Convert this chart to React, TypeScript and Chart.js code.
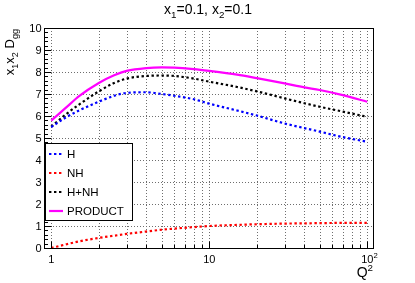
import React, { useEffect, useRef } from 'react';
import { Chart, registerables } from 'chart.js';

Chart.register(...registerables);

const FONT = '"Liberation Sans", Arial, Helvetica, sans-serif';

// ---- data ----
const Q2 = [1, 1.25, 1.5, 2, 2.5, 3, 4, 5, 6, 8, 10, 15, 20, 30, 40, 50, 70, 100];
const H = [5.5, 5.95, 6.25, 6.65, 6.92, 7.05, 7.08, 7.0, 6.92, 6.76, 6.56, 6.25, 6.02, 5.66, 5.45, 5.29, 5.04, 4.83];
const NH = [0, 0.17, 0.3, 0.46, 0.56, 0.64, 0.75, 0.83, 0.88, 0.95, 1.0, 1.05, 1.08, 1.11, 1.12, 1.13, 1.14, 1.14];
const H_NH = [5.52, 6.1, 6.52, 7.12, 7.5, 7.7, 7.82, 7.84, 7.82, 7.7, 7.56, 7.32, 7.12, 6.8, 6.58, 6.42, 6.2, 5.96];
const PRODUCT = [5.79, 6.4, 6.9, 7.5, 7.85, 8.05, 8.18, 8.21, 8.2, 8.13, 8.05, 7.88, 7.72, 7.48, 7.3, 7.18, 6.95, 6.65];

const SERIES_LABELS = ['H', 'NH', 'H+NH', 'PRODUCT'];
const SERIES_COLORS = ['#0000ff', '#ff0000', '#000000', '#ff00ff'];
const Y_TICKS = [0, 1, 2, 3, 4, 5, 6, 7, 8, 9, 10];
const X_GRID = [1, 2, 3, 4, 5, 6, 7, 8, 9, 10, 20, 30, 40, 50, 60, 70, 80, 90, 100];
const X_MAJOR = [1, 10, 100];
const X_TICK_LABELS = [
  { v: 1, base: '1', sup: '' },
  { v: 10, base: '10', sup: '' },
  { v: 100, base: '10', sup: '2' },
];
const X_MIN = 0.9;
const X_MAX = 108.7;
const Y_MIN = 0;
const Y_MAX = 10;

type Seg = { t: string; sub?: boolean; sup?: boolean };

function richWidth(ctx: CanvasRenderingContext2D, segs: Seg[], size: number) {
  let w = 0;
  for (const s of segs) {
    ctx.font = `${s.sub || s.sup ? size * 0.7 : size}px ${FONT}`;
    w += ctx.measureText(s.t).width;
  }
  return w;
}

function drawRich(ctx: CanvasRenderingContext2D, segs: Seg[], x: number, y: number, size: number) {
  let cx = x;
  ctx.textAlign = 'left';
  ctx.textBaseline = 'alphabetic';
  for (const s of segs) {
    const small = s.sub || s.sup;
    ctx.font = `${small ? size * 0.7 : size}px ${FONT}`;
    const dy = s.sub ? size * 0.3 : s.sup ? -size * 0.45 : 0;
    ctx.fillText(s.t, cx, y + dy);
    cx += ctx.measureText(s.t).width;
  }
}

const rootStyle = {
  id: 'rootStyle',
  beforeDraw(chart: any) {
    const { ctx, width, height } = chart;
    ctx.save();
    ctx.fillStyle = '#ffffff';
    ctx.fillRect(0, 0, width, height);
    ctx.restore();
  },
  beforeDatasetsDraw(chart: any) {
    const { ctx, chartArea: a, scales } = chart;
    const xs = scales.x;
    const ys = scales.y;
    ctx.save();
    ctx.lineWidth = 1;
    ctx.strokeStyle = '#6e6e6e';
    ctx.setLineDash([1, 2]);
    for (const v of X_GRID) {
      const px = Math.round(xs.getPixelForValue(v)) + 0.5;
      ctx.beginPath();
      ctx.moveTo(px, a.top);
      ctx.lineTo(px, a.bottom);
      ctx.stroke();
    }
    for (const v of Y_TICKS) {
      if (v === Y_MIN || v === Y_MAX) continue;
      const py = Math.round(ys.getPixelForValue(v)) + 0.5;
      ctx.beginPath();
      ctx.moveTo(a.left, py);
      ctx.lineTo(a.right, py);
      ctx.stroke();
    }
    ctx.restore();
  },
  afterDatasetsDraw(chart: any) {
    const { ctx, chartArea: a, scales } = chart;
    const xs = scales.x;
    const ys = scales.y;
    ctx.save();
    ctx.setLineDash([]);
    ctx.strokeStyle = '#000';
    ctx.lineWidth = 1;
    // frame
    ctx.strokeRect(Math.round(a.left) + 0.5, Math.round(a.top) + 0.5, Math.round(a.right - a.left), Math.round(a.bottom - a.top));

    // y ticks (major + minor)
    const lx = Math.round(a.left) + 0.5;
    for (let i = 0; i < Y_TICKS.length; i++) {
      const v = Y_TICKS[i];
      const py = Math.round(ys.getPixelForValue(v)) + 0.5;
      ctx.beginPath();
      ctx.moveTo(lx, py);
      ctx.lineTo(lx + 7, py);
      ctx.stroke();
      if (i < Y_TICKS.length - 1) {
        const step = (Y_TICKS[i + 1] - v) / 5;
        for (let k = 1; k < 5; k++) {
          const pm = Math.round(ys.getPixelForValue(v + k * step)) + 0.5;
          ctx.beginPath();
          ctx.moveTo(lx, pm);
          ctx.lineTo(lx + 3.5, pm);
          ctx.stroke();
        }
      }
    }
    // x ticks
    const by = Math.round(a.bottom) + 0.5;
    for (const v of X_GRID) {
      const px = Math.round(xs.getPixelForValue(v)) + 0.5;
      const len = X_MAJOR.includes(v) ? 7 : 3.5;
      ctx.beginPath();
      ctx.moveTo(px, by);
      ctx.lineTo(px, by - len);
      ctx.stroke();
    }

    // y tick labels
    ctx.fillStyle = '#000';
    ctx.font = `11px ${FONT}`;
    ctx.textAlign = 'right';
    ctx.textBaseline = 'middle';
    for (const v of Y_TICKS) {
      ctx.fillText(String(v), a.left - 2.5, ys.getPixelForValue(v) + 0.5);
    }
    // x tick labels
    for (const t of X_TICK_LABELS) {
      const segs: Seg[] = [{ t: t.base }];
      if (t.sup) segs.push({ t: t.sup, sup: true });
      ctx.font = `11px ${FONT}`;
      const wBase = ctx.measureText(t.base).width;
      const px = xs.getPixelForValue(t.v);
      drawRich(ctx, segs, px - wBase / 2, a.bottom + 15, 11);
    }

    // title
    const title: Seg[] = [
      { t: 'x' }, { t: '1', sub: true }, { t: '=0.1, x' }, { t: '2', sub: true }, { t: '=0.1' },
    ];
    const tw = richWidth(ctx, title, 14);
    drawRich(ctx, title, 208 - tw / 2, 14, 14);

    // x axis title
    const xt: Seg[] = [{ t: 'Q' }, { t: '2', sup: true }];
    const xw = richWidth(ctx, xt, 14);
    drawRich(ctx, xt, a.right - xw, a.bottom + 29, 14);

    // y axis title (rotated)
    const yt: Seg[] = [
      { t: 'x' }, { t: '1', sub: true }, { t: 'x' }, { t: '2', sub: true }, { t: ' D' }, { t: 'gg', sub: true },
    ];
    const yw = richWidth(ctx, yt, 13);
    ctx.save();
    ctx.translate(14, a.top + 1);
    ctx.rotate(-Math.PI / 2);
    drawRich(ctx, yt, -yw, 0, 13);
    ctx.restore();

    // legend
    const L = { x: 45.5, y: 143.5, w: 87, h: 77 };
    ctx.fillStyle = '#fff';
    ctx.fillRect(L.x, L.y, L.w, L.h);
    ctx.strokeStyle = '#000';
    ctx.lineWidth = 1;
    ctx.strokeRect(L.x, L.y, L.w, L.h);
    const ds = chart.data.datasets;
    for (let i = 0; i < ds.length; i++) {
      const yy = 154 + i * 19;
      ctx.strokeStyle = ds[i].borderColor;
      ctx.lineWidth = ds[i].borderWidth;
      ctx.setLineDash(ds[i].borderDash || []);
      ctx.beginPath();
      ctx.moveTo(49, yy);
      ctx.lineTo(63, yy);
      ctx.stroke();
      ctx.setLineDash([]);
      ctx.fillStyle = '#000';
      ctx.font = `11.5px ${FONT}`;
      ctx.textAlign = 'left';
      ctx.textBaseline = 'middle';
      ctx.fillText(ds[i].label, 67, yy + 0.5);
    }
    ctx.restore();
  },
};

export default function App() {
  const ref = useRef<HTMLCanvasElement | null>(null);
  useEffect(() => {
    if (!ref.current) return;
    const series = [H, NH, H_NH, PRODUCT];
    const chart = new Chart(ref.current, {
      type: 'line',
      data: {
        datasets: series.map((vals, i) => ({
          label: SERIES_LABELS[i],
          data: Q2.map((q, j) => ({ x: q, y: vals[j] })),
          borderColor: SERIES_COLORS[i],
          backgroundColor: SERIES_COLORS[i],
          borderWidth: 2.2,
          borderDash: i === 3 ? [] : [2.4, 2.6],
          pointRadius: 0,
          cubicInterpolationMode: 'monotone' as const,
          fill: false,
        })),
      },
      options: {
        responsive: false,
        animation: false,
        devicePixelRatio: 1,
        layout: { padding: { left: 44, right: 42, top: 28, bottom: 35 } },
        scales: {
          x: { type: 'logarithmic', min: X_MIN, max: X_MAX, display: false },
          y: { type: 'linear', min: Y_MIN, max: Y_MAX, display: false },
        },
        plugins: {
          legend: { display: false },
          title: { display: false },
          tooltip: { enabled: false },
        },
      },
      plugins: [rootStyle],
    });
    return () => chart.destroy();
  }, []);
  return (
    <div style={{ position: 'absolute', left: 0, top: 0, width: 415, height: 283 }}>
      <canvas ref={ref} width={415} height={283} style={{ display: 'block' }} />
    </div>
  );
}
